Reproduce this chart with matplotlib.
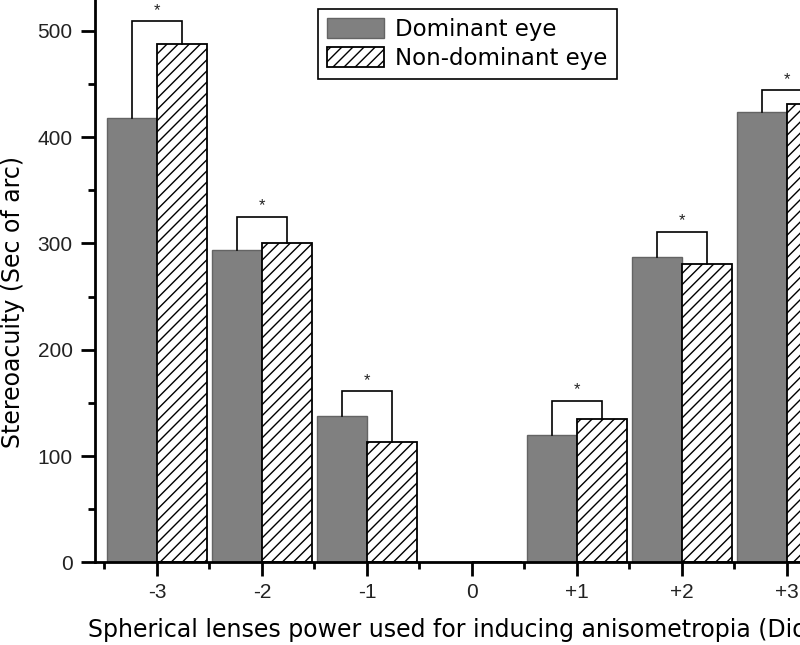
import numpy as np
import matplotlib.pyplot as plt
from matplotlib.ticker import MultipleLocator

plt.rcParams['font.family'] = ['Liberation Sans', 'DejaVu Sans']
plt.rcParams['hatch.linewidth'] = 1.0

# --- data ---
lens_power = [-3, -2, -1, 0, 1, 2, 3]
tick_labels = ['-3', '-2', '-1', '0', '+1', '+2', '+3']
dominant = [418, 294, 138, 0, 120, 287, 424]
non_dominant = [488, 300, 113, 0, 135, 281, 431]
# height of the significance bracket for each pair (None = no bracket)
bracket_top = [509, 325, 161, None, 152, 311, 444]

bar_w = 0.48
wide_font = 'DejaVu Sans'  # reference text is wider than Arial

fig = plt.figure(figsize=(8, 6.45), dpi=100)
ax = fig.add_axes([0.11875, 0.1282, 0.945, 0.9065])

x = np.array(lens_power, dtype=float)
ax.bar(x - bar_w / 2, dominant, width=bar_w, color='#808080',
       edgecolor='#646464', linewidth=1.0, label='Dominant eye', zorder=2)
ax.bar(x + bar_w / 2, non_dominant, width=bar_w, color='white', hatch='///',
       edgecolor='black', linewidth=1.3, label='Non-dominant eye', zorder=2)

# significance brackets with stars
for xi, d, n, top in zip(x, dominant, non_dominant, bracket_top):
    if top is None:
        continue
    xl, xr = xi - bar_w / 2, xi + bar_w / 2
    ax.plot([xl, xl, xr, xr], [d, top, top, n], color='black', lw=1.2,
            solid_joinstyle='miter', zorder=3)
    ax.text(xi, top + 3, '*', ha='center', va='bottom', fontsize=12,
            color='#222222')

ax.set_xlim(-3.59, 3.61)
ax.set_ylim(0, 550)
ax.set_xticks(lens_power)
ax.set_xticklabels(tick_labels)
ax.xaxis.set_minor_locator(MultipleLocator(0.5))
ax.set_yticks([0, 100, 200, 300, 400, 500])
ax.yaxis.set_minor_locator(MultipleLocator(50))

for s in ['top', 'right']:
    ax.spines[s].set_visible(False)
for s in ['left', 'bottom']:
    ax.spines[s].set_linewidth(2.0)

ax.tick_params(which='major', direction='out', length=10, width=2,
               labelsize=15, labelcolor='#222222', pad=6)
ax.tick_params(which='minor', direction='out', length=5, width=2)
ax.tick_params(axis='x', which='major', pad=5)

ax.set_ylabel('Stereoacuity (Sec of arc)', fontsize=17, family=wide_font)
ax.yaxis.set_label_coords(-0.093, 0.445)
ax.set_xlabel('Spherical lenses power used for inducing anisometropia (Diopters)',
              fontsize=17, family=wide_font, ha='left')
ax.xaxis.set_label_coords(-0.0093, -0.095)

leg = fig.legend(loc='upper left', bbox_to_anchor=(0.3975, 0.986),
                 prop={'family': wide_font, 'size': 16.5}, frameon=True,
                 fancybox=False, framealpha=1, edgecolor='black',
                 handlelength=2.5, handleheight=0.95, borderpad=0.38,
                 labelspacing=0.28, handletextpad=0.5, borderaxespad=0)
leg.get_frame().set_linewidth(1.2)

fig.savefig('out.png', dpi=100)
